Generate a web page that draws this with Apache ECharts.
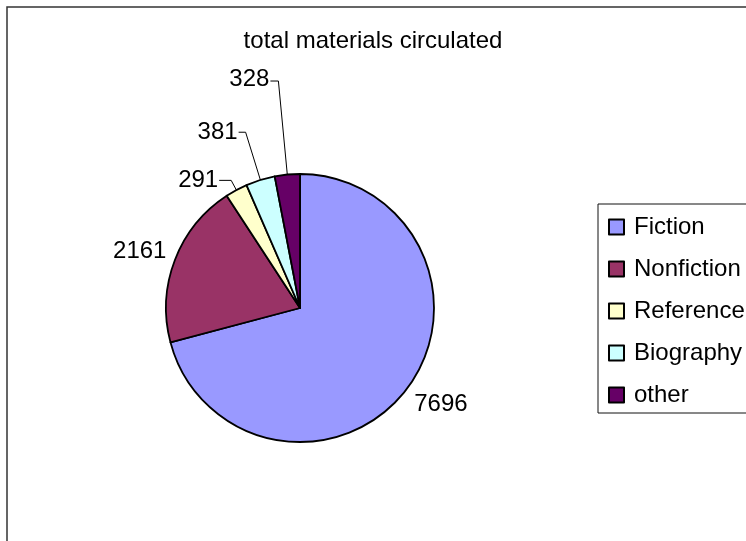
<!DOCTYPE html>
<html>
<head>
<meta charset="utf-8">
<script src="https://cdn.jsdelivr.net/npm/echarts@6/dist/echarts.min.js"></script>
<style>
  html, body { margin: 0; padding: 0; background: #fff; }
  #main { width: 746px; height: 541px; }
</style>
</head>
<body>
<div id="main"></div>
<script>
// 数据
const categories = ['Fiction', 'Nonfiction', 'Reference', 'Biography', 'other']
const values = [7696, 2161, 291, 381, 328]
const colors = ['#9999FF', '#993366', '#FFFFCC', '#CCFFFF', '#660066']

// 每个标签的引导线 (第一段, 第二段)
const lineLen = [
  { show: false, length: 14, length2: 0 },
  { show: false, length: 8, length2: 0 },
  { show: true, length: 11, length2: 12 },
  { show: true, length: 50, length2: 7 },
  { show: true, length: 94, length2: 8 }
]
// 标签微调
const labelShift = [
  { dx: -4, dy: 6 },
  { dx: 0, dy: -6 },
  { dx: 0, dy: 0 },
  { dx: 0, dy: 0 },
  { dx: 0, dy: -2 }
]

const chart = echarts.init(document.getElementById('main'))
const font = 'Liberation Sans, Arial, sans-serif'

const seriesData = categories.map((name, i) => {
  return {
    name: name,
    value: values[i],
    itemStyle: { color: colors[i] },
    labelLine: lineLen[i]
  }
})

chart.setOption({
  animation: false,
  title: {
    text: 'total materials circulated',
    left: 'center',
    top: 24,
    textStyle: { fontFamily: font, fontSize: 24, fontWeight: 'normal', color: '#000' }
  },
  legend: {
    orient: 'vertical',
    left: 598,
    top: 204,
    icon: 'rect',
    itemWidth: 15,
    itemHeight: 15,
    itemGap: 18,
    padding: [11, 60, 6, 10],
    borderColor: '#111',
    borderWidth: 1,
    data: categories,
    textStyle: { fontFamily: font, fontSize: 24, lineHeight: 24, color: '#000', padding: [0, 0, 0, 5] },
    itemStyle: { borderColor: '#000', borderWidth: 2 }
  },
  graphic: [
    {
      type: 'rect',
      shape: { x: 7, y: 7, width: 800, height: 600 },
      style: { fill: 'none', stroke: '#333', lineWidth: 1.5 },
      silent: true
    }
  ],
  series: [
    {
      type: 'pie',
      center: [300, 308],
      radius: 134,
      startAngle: 90,
      clockwise: true,
      avoidLabelOverlap: false,
      itemStyle: { borderColor: '#000', borderWidth: 1.8 },
      label: {
        show: true,
        position: 'outside',
        formatter: '{c}',
        fontFamily: font,
        fontSize: 24,
        color: '#000',
        distanceToLabelLine: 1
      },
      labelLine: {
        lineStyle: { color: '#000', width: 1 }
      },
      labelLayout: params => labelShift[params.dataIndex],
      emphasis: { disabled: true },
      data: seriesData
    }
  ]
})
</script>
</body>
</html>
